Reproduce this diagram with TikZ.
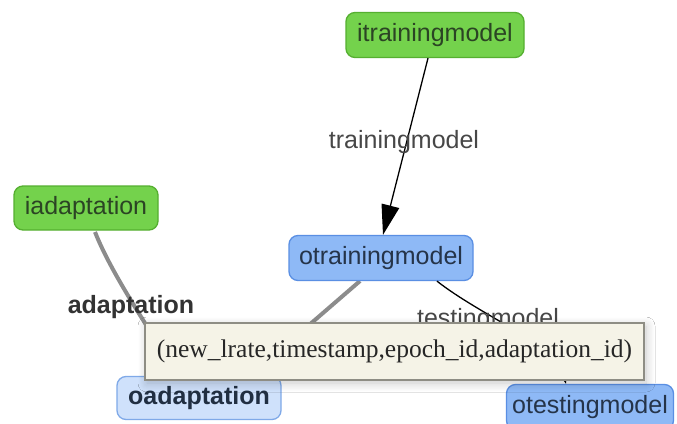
\documentclass[tikz,border=0pt]{standalone}
\usepackage{fontspec}
\setmainfont{Liberation Sans}
\newfontfamily\tipfont{Liberation Serif}
\usetikzlibrary{arrows.meta,shadows.blur}

\definecolor{ingreen}{HTML}{74D24C}
\definecolor{ingreenline}{HTML}{55AF30}
\definecolor{intext}{HTML}{2B4424}
\definecolor{outblue}{HTML}{8EB9F6}
\definecolor{outblueline}{HTML}{5A8FE3}
\definecolor{outtext}{HTML}{253449}
\definecolor{paleblue}{HTML}{CFE1FB}
\definecolor{palebluel}{HTML}{7FA9E8}
\definecolor{edgegray}{HTML}{8C8C8C}
\definecolor{labelgray}{HTML}{474747}
\definecolor{tipfill}{HTML}{F5F3E7}
\definecolor{tipline}{HTML}{8E8D84}

\begin{document}
\begin{tikzpicture}[x=1pt,y=-1pt,
  box/.style={rounded corners=9pt, line width=1.3pt, inner sep=0pt,
    minimum height=45pt, font=\fontsize{25}{30}\selectfont},
  inbox/.style={box, fill=ingreen, draw=ingreenline, text=intext},
  outbox/.style={box, fill=outblue, draw=outblueline, text=outtext},
  selbox/.style={box, fill=paleblue, draw=palebluel, text=outtext!90!black,
    font=\fontsize{25}{30}\selectfont\bfseries},
  lbl/.style={text=labelgray, inner sep=0pt, font=\fontsize{25}{30}\selectfont},
  thinedge/.style={draw=black, line width=1.3pt},
  thickedge/.style={draw=edgegray, line width=4pt},
  tip/.style={fill=tipfill, draw=tipline, line width=1.2pt, inner sep=0pt,
    minimum width=499pt, minimum height=57pt, text=black!85,
    font=\tipfont\fontsize{25.5}{30}\selectfont,
    blur shadow={shadow xshift=2pt, shadow yshift=-3pt,
      shadow blur radius=9pt, shadow blur steps=12, shadow opacity=22}}]

\useasboundingbox (0,0) rectangle (677,423);
\fill[white] (0,0) rectangle (677,423);

% connectors first, so the boxes sit on top of them
\coordinate (a1) at (95,232);
\coordinate (a2) at (179,377);
\draw[thickedge] (a1) .. controls (112,275) and (150,330) .. (a2);
\coordinate (b1) at (360,281);
\coordinate (b2) at (249,377);
\draw[thickedge] (b1) -- (b2);

% nodes
\node[inbox, minimum width=178pt] (itrain) at (435,35) {itrainingmodel};
\node[inbox, minimum width=144pt, minimum height=44pt] (iadapt) at (86,208) {iadaptation};
\node[outbox, minimum width=184pt] (otrain) at (381,258) {otrainingmodel};
\node[selbox, minimum width=164pt, minimum height=43pt] (oadapt) at (199,398) {oadaptation};
\node[outbox, minimum width=167pt] (otest) at (590,407) {otestingmodel};

\draw[thinedge, -{Triangle[length=30pt,width=18pt]}] ([xshift=-7pt]itrain.south) -- ([xshift=2pt]otrain.north);
\draw[thinedge, -{Triangle[length=12pt,width=9pt]}] ([xshift=56pt]otrain.south) .. controls (480,315) and (555,345) .. ([xshift=-24pt]otest.north);

% connector labels
\node[lbl] (ltrain) at (404,142) {trainingmodel};
\node[lbl, font=\fontsize{25}{30}\selectfont\bfseries, text=black!80] (ladapt) at (131,307) {adaptation};
\node[lbl] (ltest) at (488,320) {testingmodel};

% hover box
\node[tip] (tipbox) at (394.5,351.5) {(new\_lrate,timestamp,epoch\_id,adaptation\_id)};

\end{tikzpicture}
\end{document}
